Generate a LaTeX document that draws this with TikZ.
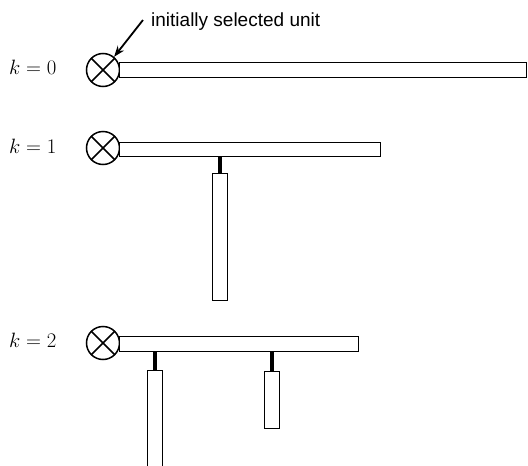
\documentclass[tikz,border=0pt]{standalone}
\usepackage{fontspec}
\newfontfamily\labelfont{Liberation Sans}
\usetikzlibrary{arrows.meta}
\begin{document}
\begin{tikzpicture}[x=1pt,y=-1pt,
  unit/.style={draw, line width=1.5pt, circle, minimum size=33pt, inner sep=0pt,
    path picture={\draw[line width=1.5pt] (path picture bounding box.north west) -- (path picture bounding box.south east)
      (path picture bounding box.north east) -- (path picture bounding box.south west);}},
  bar/.style={draw, line width=1.4pt, rectangle, inner sep=0pt, anchor=north west, fill=white},
  stem/.style={line width=3.5pt},
  klabel/.style={anchor=base west, inner sep=0pt, font=\fontsize{22.5}{26}\selectfont},
  note/.style={anchor=base west, inner sep=0pt, font=\labelfont\fontsize{19}{22}\selectfont}]
\useasboundingbox (0,0) rectangle (528,466);
% k = 0
\node[klabel] (k0) at (9,74) {$k = 0$};
\node[unit] (u0) at (103,70) {};
\node[bar, minimum width=407pt, minimum height=15pt] (b0) at (119,62) {};
\node[note] (lab) at (151,26) {initially selected unit};
\coordinate (tail) at (143,20);
\draw[line width=1.8pt, -{Stealth[length=11pt,width=8pt]}] (tail) -- (u0.50);
% k = 1
\node[klabel] (k1) at (9,153) {$k = 1$};
\node[unit] (u1) at (103,148) {};
\node[bar, minimum width=261pt, minimum height=14pt] (b1) at (119,142) {};
\node[bar, minimum width=15pt, minimum height=127pt] (c1) at (212,173) {};
\draw[stem] (c1.north) -- (c1.north |- b1.south);
% k = 2
\node[klabel] (k2) at (9,347) {$k = 2$};
\node[unit] (u2) at (103,343) {};
\node[bar, minimum width=239pt, minimum height=15pt] (b2) at (119,336) {};
\node[bar, minimum width=15pt, minimum height=110pt] (c2) at (147,370) {};
\node[bar, minimum width=15pt, minimum height=57pt] (c3) at (264,371) {};
\draw[stem] (c2.north) -- (c2.north |- b2.south);
\draw[stem] (c3.north) -- (c3.north |- b2.south);
\end{tikzpicture}
\end{document}
